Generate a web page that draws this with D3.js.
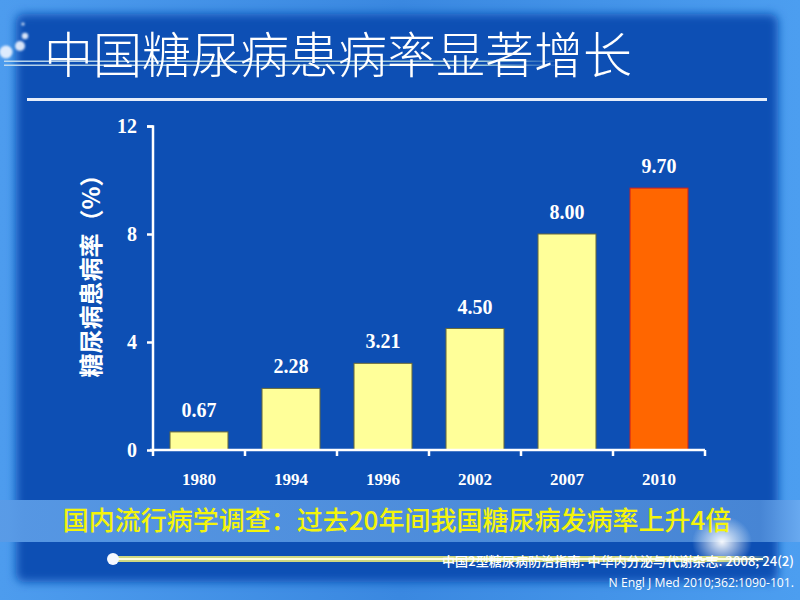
<!DOCTYPE html>
<html>
<head>
<meta charset="utf-8">
<script src="https://cdn.jsdelivr.net/npm/d3@7/dist/d3.min.js"></script>
<style>
html,body{margin:0;padding:0;background:#0b4fb1;}
svg{display:block;}
</style>
</head>
<body>
<svg id="chart" width="800" height="600"></svg>
<script>
const categories = ["1980","1994","1996","2002","2007","2010"];
const values = [0.67, 2.28, 3.21, 4.50, 8.00, 9.70];
const valueLabels = ["0.67","2.28","3.21","4.50","8.00","9.70"];
const yTicks = [0, 4, 8, 12];
const barColors = ["#ffff99","#ffff99","#ffff99","#ffff99","#ffff99","#ff6600"];
const barStrokes = ["#6b6b3a","#6b6b3a","#6b6b3a","#6b6b3a","#6b6b3a","#d02020"];

const title = "中国糖尿病患病率显著增长";
const yLabel = "糖尿病患病率（%）";
const banner = "国内流行病学调查：过去20年间我国糖尿病发病率上升4倍";
const refs = ["中国2型糖尿病防治指南. 中华内分泌与代谢杂志. 2008; 24(2)", "N Engl J Med 2010;362:1090-101."];

const svg = d3.select("#chart");
const defs = svg.append("defs");

// background
const bg = defs.append("linearGradient").attr("id","bgOuter").attr("x1",0).attr("y1",0).attr("x2",1).attr("y2",0);
bg.append("stop").attr("offset","0%").attr("stop-color","#4d9cee");
bg.append("stop").attr("offset","50%").attr("stop-color","#3a88e0");
bg.append("stop").attr("offset","100%").attr("stop-color","#4c9ef0");
svg.append("rect").attr("width",800).attr("height",600).attr("fill","url(#bgOuter)");

const blur = defs.append("filter").attr("id","soft").attr("x","-10%").attr("y","-10%").attr("width","120%").attr("height","120%");
blur.append("feGaussianBlur").attr("stdDeviation",5);
svg.append("rect").attr("x",16).attr("y",14).attr("width",762).attr("height",568).attr("rx",8)
  .attr("fill","#0a50b4").attr("filter","url(#soft)");

// decorative circles
const glow = defs.append("filter").attr("id","glow").attr("x","-100%").attr("y","-100%").attr("width","300%").attr("height","300%");
glow.append("feGaussianBlur").attr("stdDeviation",1.2);
[[6,52,6.5],[20,46,5],[25,36,3.2],[23,24,1.6]].forEach(c=>{
  svg.append("circle").attr("cx",c[0]).attr("cy",c[1]).attr("r",c[2]).attr("fill","#eef4ff").attr("opacity",0.9).attr("filter","url(#glow)");
});

// title decorative lines
const lg = defs.append("linearGradient").attr("id","tline").attr("x1",0).attr("x2",1).attr("y1",0).attr("y2",0);
lg.append("stop").attr("offset","0%").attr("stop-color","#c8e0f0").attr("stop-opacity",0.9);
lg.append("stop").attr("offset","85%").attr("stop-color","#b8e0e0").attr("stop-opacity",0.85);
lg.append("stop").attr("offset","100%").attr("stop-color","#b8e0e0").attr("stop-opacity",0);
svg.append("rect").attr("x",4).attr("y",60.5).attr("width",562).attr("height",1.5).attr("fill","url(#tline)");
svg.append("rect").attr("x",4).attr("y",64.5).attr("width",562).attr("height",1.5).attr("fill","url(#tline)");

// title
svg.append("text").attr("x",44).attr("y",73)
  .attr("font-family","'Noto Sans CJK SC', sans-serif").attr("font-weight",300)
  .attr("font-size",49).attr("fill","#ffffff").text(title);

svg.append("rect").attr("x",27).attr("y",98).attr("width",740).attr("height",3).attr("fill","#e6eefa");

// chart
const x = d3.scaleBand().domain(categories).range([153,705]).paddingInner(0.37).paddingOuter(0.185);
const y = d3.scaleLinear().domain([0,12]).range([450,126]);

const g = svg.append("g");
g.selectAll("rect.bar").data(values).join("rect").attr("class","bar")
  .attr("x",(d,i)=>x(categories[i])).attr("width",x.bandwidth())
  .attr("y",d=>y(d)).attr("height",d=>y(0)-y(d))
  .attr("fill",(d,i)=>barColors[i]).attr("stroke",(d,i)=>barStrokes[i]).attr("stroke-width",1);

g.selectAll("text.val").data(values).join("text").attr("class","val")
  .attr("x",(d,i)=>x(categories[i])+x.bandwidth()/2).attr("y",d=>y(d)-15)
  .attr("text-anchor","middle").attr("font-family","'Liberation Serif','Times New Roman',serif")
  .attr("font-weight","bold").attr("font-size",20).attr("fill","#ffffff")
  .text((d,i)=>valueLabels[i]);

// y axis
const yAxis = d3.axisLeft(y).tickValues(yTicks).tickSize(6).tickPadding(10).tickFormat(d3.format("d"));
const ya = svg.append("g").attr("transform","translate(153,0)").call(yAxis);
ya.select(".domain").attr("stroke","#ffffff").attr("stroke-width",2.5).attr("d","M-6,126.5H0V451");
ya.selectAll(".tick line").attr("stroke","#ffffff").attr("stroke-width",2.5);
ya.selectAll(".tick text").attr("fill","#ffffff").attr("font-family","'Liberation Serif','Times New Roman',serif")
  .attr("font-weight","bold").attr("font-size",20);

// x axis
const xa = svg.append("g").attr("transform","translate(0,450)");
xa.append("line").attr("x1",150).attr("x2",705).attr("y1",0).attr("y2",0).attr("stroke","#ffffff").attr("stroke-width",2.5);
const step = x.step();
const bounds = categories.map(c=>x(c)-x.paddingInner()*step/2).concat([x(categories[categories.length-1])+x.bandwidth()+x.paddingInner()*step/2]);
xa.selectAll("line.t").data(bounds).join("line").attr("class","t")
  .attr("x1",d=>d).attr("x2",d=>d).attr("y1",0).attr("y2",6).attr("stroke","#ffffff").attr("stroke-width",2.5);
xa.selectAll("text").data(categories).join("text")
  .attr("x",d=>x(d)+x.bandwidth()/2).attr("y",35).attr("text-anchor","middle")
  .attr("font-family","'Liberation Serif','Times New Roman',serif").attr("font-weight","bold")
  .attr("font-size",17).attr("fill","#ffffff").text(d=>d);

// y label
svg.append("text").attr("transform","translate(100,270) rotate(-90)").attr("text-anchor","middle")
  .attr("font-family","'Noto Sans CJK SC', sans-serif").attr("font-weight","bold")
  .attr("font-size",24).attr("fill","#ffffff").text(yLabel);

// banner
const bn = defs.append("linearGradient").attr("id","banner").attr("x1",0).attr("x2",1).attr("y1",0).attr("y2",0);
bn.append("stop").attr("offset","0%").attr("stop-color","#5a9be6");
bn.append("stop").attr("offset","95%").attr("stop-color","#4a88d6");
bn.append("stop").attr("offset","100%").attr("stop-color","#6aaaf0");
svg.append("rect").attr("x",0).attr("y",500).attr("width",800).attr("height",42).attr("fill","url(#banner)").attr("opacity",0.95);

// glow spot
const rg = defs.append("radialGradient").attr("id","spot");
rg.append("stop").attr("offset","0%").attr("stop-color","#ffffff").attr("stop-opacity",0.95);
rg.append("stop").attr("offset","100%").attr("stop-color","#ffffff").attr("stop-opacity",0);
svg.append("ellipse").attr("cx",722).attr("cy",542).attr("rx",30).attr("ry",26).attr("fill","url(#spot)");

svg.append("text").attr("x",397).attr("y",530).attr("text-anchor","middle")
  .attr("font-family","'Noto Sans CJK SC', sans-serif").attr("font-weight",500)
  .attr("font-size",26).attr("fill","#f4f40a").text(banner);

// ref line
const rl = defs.append("linearGradient").attr("id","refline").attr("x1",0).attr("x2",1).attr("y1",0).attr("y2",0);
rl.append("stop").attr("offset","0%").attr("stop-color","#f0f07a");
rl.append("stop").attr("offset","92%").attr("stop-color","#f0f07a");
rl.append("stop").attr("offset","100%").attr("stop-color","#f0f07a").attr("stop-opacity",0);
svg.append("rect").attr("x",113).attr("y",556).attr("width",660).attr("height",6).attr("fill","url(#refline)").attr("opacity",0.85);
svg.append("rect").attr("x",113).attr("y",558).attr("width",650).attr("height",2).attr("fill","#ffffe0");
svg.append("circle").attr("cx",113).attr("cy",559).attr("r",6).attr("fill","#f4f8ff");

svg.append("text").attr("x",794).attr("y",566).attr("text-anchor","end")
  .attr("font-family","'Noto Sans CJK SC', sans-serif").attr("font-size",13).attr("font-weight",500)
  .attr("textLength",352).attr("lengthAdjust","spacingAndGlyphs")
  .attr("fill","#ffffff").text(refs[0]);
svg.append("text").attr("x",794).attr("y",587).attr("text-anchor","end")
  .attr("font-family","'Liberation Sans Narrow','Open Sans',sans-serif").attr("font-size",12.2)
  .attr("fill","#ffffff").text(refs[1]);
</script>
</body>
</html>
